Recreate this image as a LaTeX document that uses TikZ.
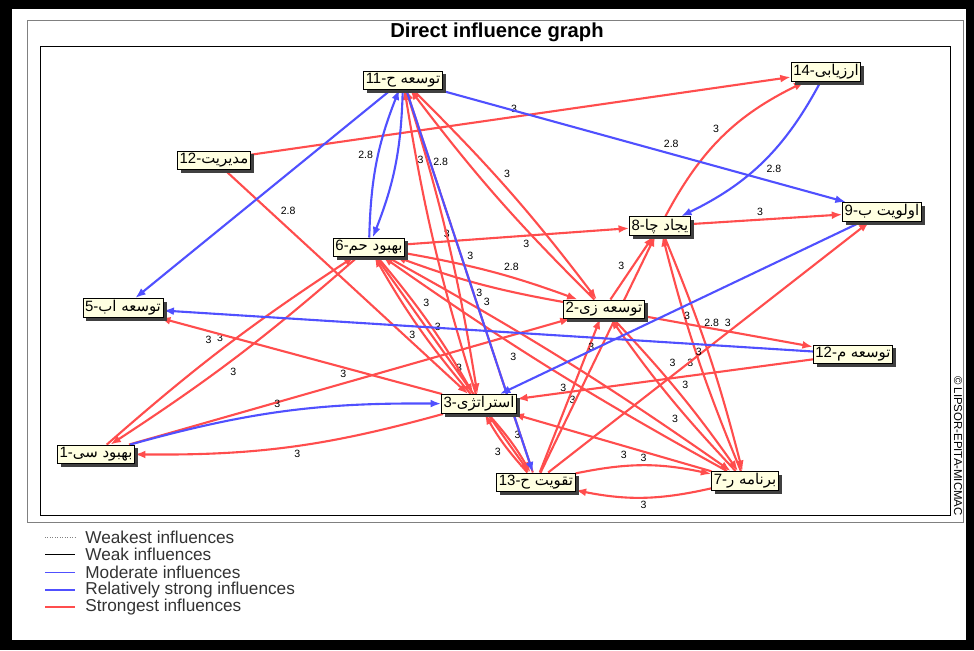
\documentclass[tikz,border=0pt]{standalone}
\usepackage{fontspec}
\setmainfont{Liberation Sans}
\newfontfamily\arabicfont[Script=Arabic]{DejaVu Sans}
\TeXXeTstate=1
\usetikzlibrary{arrows.meta,shadows}
\definecolor{strongred}{RGB}{255,77,77}
\definecolor{relblue}{RGB}{80,80,255}
\definecolor{tipyellow}{RGB}{255,255,225}
\pgfdeclarelayer{frame}
\pgfdeclarelayer{edges}
\pgfsetlayers{frame,edges,main}

\begin{document}
\begin{tikzpicture}[x=0.02cm,y=-0.02cm,
    var/.style={draw=black,fill=tipyellow,inner sep=1.2pt,font=\fontsize{8.5}{10}\selectfont,
        drop shadow={shadow xshift=2pt,shadow yshift=-2pt,fill=black!75,opacity=1}},
    strongest/.style={strongred,line width=1.2pt,-{Latex[length=6pt,width=4.5pt]}},
    relstrong/.style={relblue,line width=1.2pt,-{Latex[length=6pt,width=4.5pt]}},
    val/.style={font=\fontsize{6}{7}\selectfont,text=black,inner sep=1.5pt,auto}]
    \useasboundingbox (0,0) rectangle (974,650);

    % Frame
    \begin{pgfonlayer}{frame}
    \fill[black] (0,0) rectangle (974,650);
    \fill[white] (12,9) rectangle (966,640);
    \draw[gray,thin] (27,20) rectangle (963,522);
    \draw[black,thin] (40,46) rectangle (950,515);
    \end{pgfonlayer}
    \node[font=\bfseries\fontsize{11.5}{13}\selectfont] (title) at (497,32) {Direct influence graph};
    \node[rotate=-90,font=\fontsize{6.5}{8}\selectfont] (copy) at (958,446) {\textcopyright{} LIPSOR-EPITA-MICMAC};

    % Variables
    \node[var] (n11) at (403,80) {11-{\arabicfont\beginR توسعه ح\endR}};
    \node[var] (n14) at (826,72) {14-{\arabicfont\beginR ارزیابی\endR}};
    \node[var] (n12) at (214,160) {12-{\arabicfont\beginR مدیریت\endR}};
    \node[var] (n6) at (369,247) {6-{\arabicfont\beginR بهبود حم\endR}};
    \node[var] (n8) at (660,226) {8-{\arabicfont\beginR یجاد چا\endR}};
    \node[var] (n9) at (882,212) {9-{\arabicfont\beginR اولویت ب\endR}};
    \node[var] (n5) at (123,308) {5-{\arabicfont\beginR توسعه اب\endR}};
    \node[var] (n2) at (604,309) {2-{\arabicfont\beginR توسعه زی\endR}};
    \node[var] (n12b) at (853,354) {12-{\arabicfont\beginR توسعه م\endR}};
    \node[var] (n3) at (479,404) {3-{\arabicfont\beginR استراتژی\endR}};
    \node[var] (n1) at (96,454) {1-{\arabicfont\beginR بهبود سی\endR}};
    \node[var] (n13) at (536,482) {13-{\arabicfont\beginR تقویت ح\endR}};
    \node[var] (n7) at (745,481) {7-{\arabicfont\beginR برنامه ر\endR}};

    \begin{pgfonlayer}{edges}
    % Strongest influences (from/to/value/pos/bend)
    \foreach \a/\b/\v/\p/\c in {n12/n14/3/0.5/0, n12/n3/2.8/0.2/0, n8/n9/3/0.5/0, n6/n8/3/0.2/0,
        n11/n2/3/0.45/4, n2/n11/3/0.3/4, n11/n3/2.8/0.25/4, n3/n11/3/0.1/4, n13/n11/3/0.85/0,
        n6/n3/3/0.4/5, n3/n6/3/0.5/5, n6/n13/3/0.35/0, n6/n7/3/0.25/3, n7/n6/3/0.6/3,
        n6/n1/3/0.55/4, n1/n6/3/0.5/4, n6/n2/2.8/0.55/5, n2/n6/3/0.45/5, n1/n2/3/0.5/0,
        n3/n5/3/0.82/0, n12b/n3/3/0.85/0, n2/n12b/3/0.45/0, n2/n7/3/0.5/4, n7/n2/3/0.4/4,
        n2/n8/3/0.4/0, n7/n8/3/0.5/4, n8/n7/2.8/0.4/4, n13/n9/3/0.4/0, n13/n2/3/0.5/0,
        n13/n8/3/0.5/0, n7/n3/3/0.4/0, n13/n3/3/0.5/6, n3/n13/3/0.5/6, n13/n7/3/0.5/12,
        n7/n13/3/0.5/12, n8/n14/3/0.5/18, n3/n1/3/0.5/8}
        \draw[strongest] (\a) to[bend left=\c] node[val,pos=\p] {\v} (\b);

    % Relatively strong influences
    \foreach \a/\b/\v/\p/\c in {n11/n9/2.8/0.55/0, n11/n13/3/0.45/0, n12b/n5/3/0.15/0,
        n9/n3/3/0.5/0, n6/n11/2.8/0.5/10, n14/n8/2.8/0.5/18, n1/n3/3/0.5/8}
        \draw[relstrong] (\a) to[bend left=\c] node[val,pos=\p] {\v} (\b);
    \draw[relstrong] (n11) to[bend left=10] (n6);
    \draw[relstrong] (n11) -- (n5);
    \end{pgfonlayer}

    % Legend
    \draw[gray,densely dotted,thin] (45,537) -- (75,537);
    \draw[black,thin] (45,554) -- (75,554);
    \draw[relblue,thin] (45,572) -- (75,572);
    \draw[relblue,line width=1.2pt] (45,590) -- (75,590);
    \draw[strongred,line width=1.2pt] (45,607) -- (75,607);
    \foreach \y/\t in {537/Weakest influences, 554/Weak influences, 572/Moderate influences,
        590/Relatively strong influences, 607/Strongest influences}
        \node[anchor=west,font=\fontsize{9.8}{11}\selectfont,inner sep=0pt,text=black!80] at (85,\y) {\t};
\end{tikzpicture}
\end{document}
